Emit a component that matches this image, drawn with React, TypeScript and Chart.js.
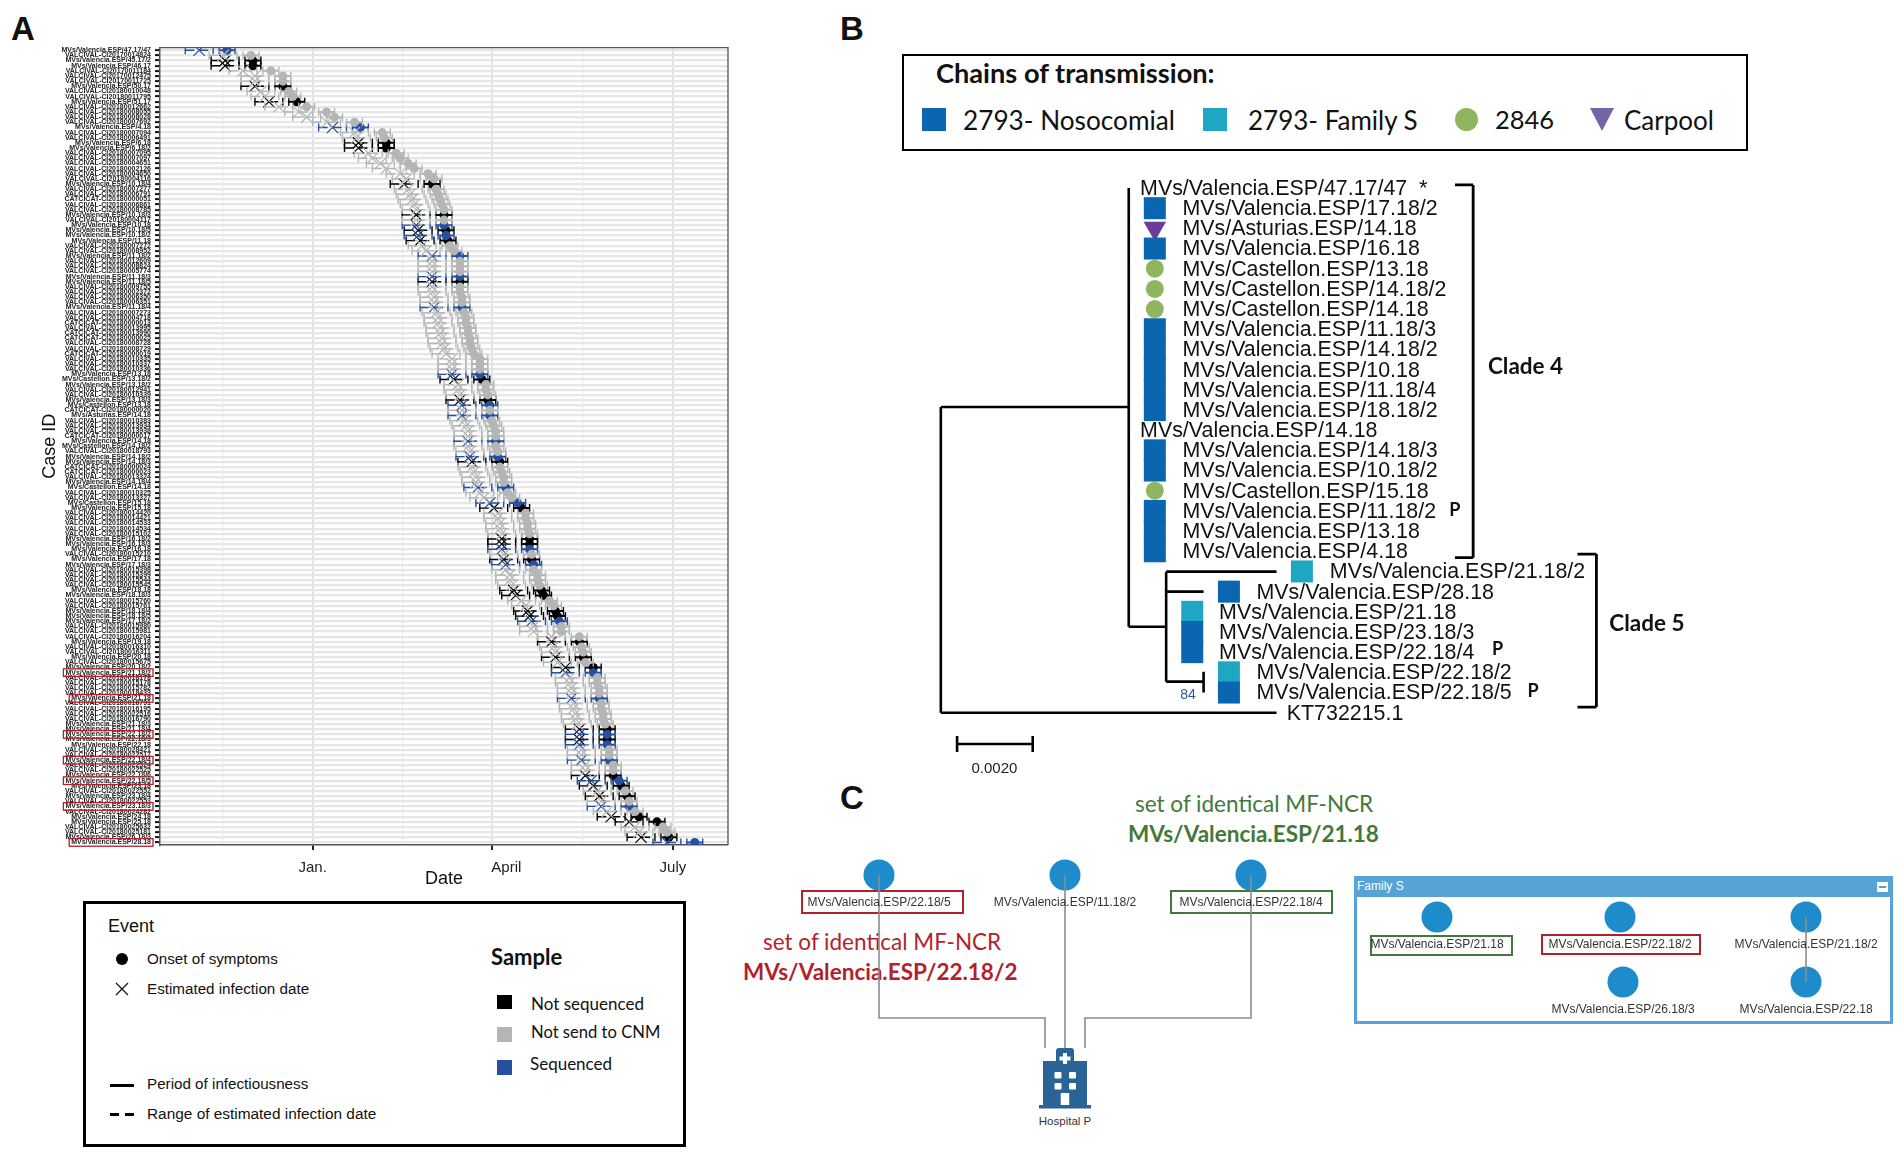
import React, { useEffect, useRef } from "react";
import { Chart, registerables } from "chart.js";

Chart.register(...registerables);

const SANS = '"Liberation Sans", Arial, sans-serif';
const HUM = 'Lato, "Open Sans", sans-serif';

// ---------- Panel A data ----------
const caseIds = [
  "MVs/Valencia.ESP/47.17/47","VALCIVAL-CI20170014824","MVs/Valencia.ESP/45.17/2","MVs/Valencia.ESP/46.17","VALCIVAL-CI20170011184","VALCIVAL-CI20170012475","VALCIVAL-CI20170011725","MVs/Valencia.ESP/50.17","VALCIVAL-CI20180010048","VALCIVAL-CI20180011795",
  "MVs/Valencia.ESP/51.17","VALCIVAL-CI20180012662","VALCIVAL-CI20180008055","VALCIVAL-CI20180008028","VALCIVAL-CI20180007692","MVs/Valencia.ESP/4.18","VALCIVAL-CI20180007094","VALCIVAL-CI20180006491","MVs/Valencia.ESP/6.18","MVs/Valencia.ESP/6.18/2",
  "VALCIVAL-CI20180007095","VALCIVAL-CI20180007097","VALCIVAL-CI20180004651","VALCIVAL-CI20180002126","VALCIVAL-CI20180004650","VALCIVAL-CI20180004116","MVs/Valencia.ESP/10.18/4","VALCIVAL-CI20180007277","VALCIVAL-CI20180006791","CATCICAT-CI20180000051",
  "VALCIVAL-CI20180006861","VALCIVAL-CI20180008785","MVs/Valencia.ESP/10.18/3","VALCIVAL-CI20180004117","MVs/Valencia.ESP/10.18","MVs/Valencia.ESP/10.18/5","MVs/Valencia.ESP/10.18/2","MVs/Valencia.ESP/11.18","VALCIVAL-CI20180007272","VALCIVAL-CI20180008952",
  "MVs/Valencia.ESP/11.18/2","VALCIVAL-CI20180012609","VALCIVAL-CI20180008824","VALCIVAL-CI20180005774","MVs/Valencia.ESP/11.18/3","MVs/Valencia.ESP/11.18/5","VALCIVAL-CI20180009755","VALCIVAL-CI20180002372","VALCIVAL-CI20180006350","VALCIVAL-CI20180006351",
  "MVs/Valencia.ESP/11.18/4","VALCIVAL-CI20180007273","VALCIVAL-CI20180004718","CATCICAT-CI20180000013","VALCIVAL-CI20180013995","CATCICAT-CI20180013990","CATCICAT-CI20180000025","VALCIVAL-CI20180008728","VALCIVAL-CI20180008729","CATCICAT-CI20180000019",
  "VALCIVAL-CI20180010335","VALCIVAL-CI20180010337","VALCIVAL-CI20180010336","MVs/Valencia.ESP/13.18","MVs/Castellon.ESP/13.18/2","MVs/Valencia.ESP/13.18/2","VALCIVAL-CI20180012941","VALCIVAL-CI20180010339","MVs/Valencia.ESP/13.18/3","MVs/Castellon.ESP/13.18",
  "CATCICAT-CI20180000020","MVs/Asturias.ESP/14.18","VALCIVAL-CI20180010383","VALCIVAL-CI20180013934","VALCIVAL-CI20180013938","CATCICAT-CI20180000017","MVs/Valencia.ESP/14.18","MVs/Castellon.ESP/14.18/2","VALCIVAL-CI20180018793","MVs/Valencia.ESP/14.18/2",
  "MVs/Valencia.ESP/14.18/3","CATCICAT-CI20180000024","CATCICAT-CI20180000023","VALCIVAL-CI20180013324","MVs/Valencia.ESP/14.18/4","MVs/Castellon.ESP/14.18","VALCIVAL-CI20180010325","VALCIVAL-CI20180013327","MVs/Castellon.ESP/15.18","MVs/Valencia.ESP/15.18",
  "VALCIVAL-CI20180014420","VALCIVAL-CI20180014421","VALCIVAL-CI20180014533","VALCIVAL-CI20180014534","VALCIVAL-CI20180015102","MVs/Valencia.ESP/16.18/2","MVs/Valencia.ESP/16.18/3","MVs/Valencia.ESP/16.18","VALCIVAL-CI20180015210","MVs/Valencia.ESP/17.18",
  "MVs/Valencia.ESP/17.18/3","VALCIVAL-CI20180015398","VALCIVAL-CI20180015399","VALCIVAL-CI20180015544","VALCIVAL-CI20180015545","MVs/Valencia.ESP/18.18","MVs/Valencia.ESP/18.18/3","VALCIVAL-CI20180015760","VALCIVAL-CI20180015761","MVs/Valencia.ESP/18.18/4",
  "MVs/Valencia.ESP/18.18/5","MVs/Valencia.ESP/17.18/2","VALCIVAL-CI20180015980","VALCIVAL-CI20180015981","VALCIVAL-CI20180016204","MVs/Valencia.ESP/19.18","VALCIVAL-CI20180016310","VALCIVAL-CI20180016311","MVs/Valencia.ESP/20.18","VALCIVAL-CI20180015675",
  "MVs/Valencia.ESP/20.18/2","MVs/Valencia.ESP/21.18/2","VALCIVAL-CI20180018178","VALCIVAL-CI20180015178","VALCIVAL-CI20180015782","VALCIVAL-CI20180018433","MVs/Valencia.ESP/21.18","VALCIVAL-CI20180016791","VALCIVAL-CI20180016195","VALCIVAL-CI20180022516",
  "VALCIVAL-CI20180016790","MVs/Valencia.ESP/21.18/3","MVs/Valencia.ESP/21.18/4","MVs/Valencia.ESP/22.18/2","MVs/Valencia.ESP/22.18/3","MVs/Valencia.ESP/22.18","VALCIVAL-CI20180028421","VALCIVAL-CI20180022517","MVs/Valencia.ESP/22.18/4","VALCIVAL-CI20180022524",
  "VALCIVAL-CI20180022525","MVs/Valencia.ESP/22.18/6","MVs/Valencia.ESP/22.18/5","MVs/Valencia.ESP/23.18","VALCIVAL-CI20180022552","MVs/Valencia.ESP/23.18/4","VALCIVAL-CI20180022553","MVs/Valencia.ESP/23.18/3","VALCIVAL-CI20180024282","MVs/Valencia.ESP/24.18",
  "MVs/Valencia.ESP/25.18","VALCIVAL-CI20180025632","VALCIVAL-CI20180025181","MVs/Valencia.ESP/26.18/3","MVs/Valencia.ESP/28.18",
];

// Onset of symptoms, in days from 1 January of the outbreak year
const onsetDay = [
  -43,-31,-30,-30,-21,-15,-15,-15,-12,-10,-8,-3,7,11,21,24,35,36,37,37,
  42,44,48,51,58,61,60,62,63,64,65,66,66,66,66,67,67,68,69,71,
  74,74,74,74,74,74,74,74,75,75,75,76,77,77,78,78,79,79,80,81,
  84,84,84,84,85,87,87,88,88,89,89,89,90,91,92,92,92,92,93,93,
  94,94,95,96,96,97,98,100,103,105,107,107,108,108,109,109,109,109,110,110,
  111,111,113,113,114,115,116,119,121,122,123,124,125,125,134,134,135,136,136,137,
  141,141,143,143,144,144,144,145,145,146,146,147,148,148,148,148,149,149,149,151,
  151,151,154,155,157,158,159,159,162,164,173,176,178,179,192,
];
const notSequencedRows = [2,3,7,10,18,19,26,32,35,37,45,64,68,80,89,95,96,99,105,106,109,110,115,118,120,132,134,141,143,145,149,150,153];
const sequencedRows = [0,15,34,36,40,44,50,63,69,71,76,79,85,88,97,100,111,121,126,133,135,138,142,147,154];
const framedRows = [121,126,133,138,142,147,154];
const infectionLag = 14;
const infectionRangeLag = [21, 7];
const infectiousDays = 4;
const gridDays = [-45, 0, 45, 90, 135.5, 181];
const monthDays = [0, 90, 181];
const monthNames = ["Jan.", "April", "July"];

// ---------- Panel B data ----------
const tipNames = [
  "MVs/Valencia.ESP/47.17/47","MVs/Valencia.ESP/17.18/2","MVs/Asturias.ESP/14.18","MVs/Valencia.ESP/16.18","MVs/Castellon.ESP/13.18","MVs/Castellon.ESP/14.18/2","MVs/Castellon.ESP/14.18",
  "MVs/Valencia.ESP/11.18/3","MVs/Valencia.ESP/14.18/2","MVs/Valencia.ESP/10.18","MVs/Valencia.ESP/11.18/4","MVs/Valencia.ESP/18.18/2","MVs/Valencia.ESP/14.18","MVs/Valencia.ESP/14.18/3",
  "MVs/Valencia.ESP/10.18/2","MVs/Castellon.ESP/15.18","MVs/Valencia.ESP/11.18/2","MVs/Valencia.ESP/13.18","MVs/Valencia.ESP/4.18","MVs/Valencia.ESP/21.18/2","MVs/Valencia.ESP/28.18",
  "MVs/Valencia.ESP/21.18","MVs/Valencia.ESP/23.18/3","MVs/Valencia.ESP/22.18/4","MVs/Valencia.ESP/22.18/2","MVs/Valencia.ESP/22.18/5","KT732215.1",
];
const tipNameDist = [0.00527,0.00639,0.00639,0.00639,0.00639,0.00639,0.00639,0.00639,0.00639,0.00639,0.00639,0.00639,0.00527,0.00639,0.00639,0.00639,0.00639,0.00639,0.00639,0.01029,0.00835,0.00736,0.00736,0.00736,0.00835,0.00835,0.00915];
const tipChain = ["","N","C","N","G","G","G","N","N","N","N","N","","N","N","G","N","N","N","F","N","F","N","N","F","N",""];
const tipMarkDist = [0,0.00566,0.00566,0.00566,0.00566,0.00566,0.00566,0.00566,0.00566,0.00566,0.00566,0.00566,0,0.00566,0.00566,0.00566,0.00566,0.00566,0.00566,0.00955,0.00762,0.00665,0.00665,0.00665,0.00762,0.00762,0];
const treeBranches = [
  [0,10.85,0,26],[0,10.85,0.00497,10.85],[0.00497,0,0.00497,21.74],[0.00497,21.74,0.00596,21.74],
  [0.00596,19.01,0.00596,24.46],[0.00596,19.01,0.00888,19.01],[0.00596,20,0.00695,20],[0.00596,24.46,0.00695,24.46],
  [0.00695,23.97,0.00695,25],[0,26,0.00888,26],
];
const cladeBrackets = [
  [0.0136,-0.15,0.01408,-0.15],[0.01408,-0.15,0.01408,18.32],[0.0136,18.32,0.01408,18.32],
  [0.01684,18.14,0.01734,18.14],[0.01734,18.14,0.01734,25.72],[0.01684,25.72,0.01734,25.72],
];
const scaleBar = [[0.00043,27.55,0.00243,27.55],[0.00043,27.15,0.00043,27.95],[0.00243,27.15,0.00243,27.95]];
const treeNotes = [
  { t: "*", d: 0.01265, y: 0.05, f: `22px ${SANS}`, c: "#111" },
  { t: "P", d: 0.01345, y: 15.95, f: `bold 18px ${HUM}`, c: "#111" },
  { t: "P", d: 0.01458, y: 22.84, f: `bold 18px ${HUM}`, c: "#111" },
  { t: "P", d: 0.01552, y: 24.93, f: `bold 18px ${HUM}`, c: "#111" },
  { t: "Clade 4", d: 0.01447, y: 8.86, f: `bold 22.5px ${HUM}`, c: "#111" },
  { t: "Clade 5", d: 0.01768, y: 21.57, f: `bold 22.5px ${HUM}`, c: "#111" },
  { t: "84", d: 0.00633, y: 25.12, f: `14px ${SANS}`, c: "#2b5a9e" },
  { t: "0.0020", d: 0.00081, y: 28.8, f: `15px ${SANS}`, c: "#222" },
];

// ---------- Panel C data ----------
const nodeNames = ["MVs/Valencia.ESP/22.18/5","MVs/Valencia.ESP/11.18/2","MVs/Valencia.ESP/22.18/4","MVs/Valencia.ESP/21.18","MVs/Valencia.ESP/22.18/2","MVs/Valencia.ESP/21.18/2","MVs/Valencia.ESP/26.18/3","MVs/Valencia.ESP/22.18"];
const nodeX = [879,1065,1251,1437,1620,1806,1623,1806];
const nodeY = [875,875,875,917,917,917,982,982];
const networkLinks = [
  [[879,875],[879,1018],[1045,1018],[1045,1048]],
  [[1065,875],[1065,1048]],
  [[1251,875],[1251,1018],[1085,1018],[1085,1048]],
  [[1806,917],[1806,982]],
];

const BLACK = "#000000", GREY = "#b4b6b6", BLUE = "#24509f";
const CHAIN = { N: "#0a66b1", F: "#1fa6c2", G: "#8fb55f", C: "#6a3d9a" };

const GAP = { x: NaN, y: NaN };
const rowsOf = (status: string) =>
  onsetDay.map((_, i) => i).filter((i) => {
    const black = notSequencedRows.includes(i), blue = sequencedRows.includes(i);
    return status === "k" ? black : status === "b" ? blue : !black && !blue;
  });

function layers(status: string, color: string) {
  const rows = rowsOf(status);
  const span = (lo: (d: number) => number, hi: (d: number) => number) =>
    rows.flatMap((i) => [{ x: lo(onsetDay[i]), y: i }, { x: hi(onsetDay[i]), y: i }, GAP]);
  const caps = { pointStyle: "line", pointRotation: 90, pointRadius: 4, pointBorderColor: color, pointBorderWidth: 1.4, showLine: true, borderColor: color, tension: 0 };
  return [
    { ...caps, data: span((d) => d - infectionRangeLag[0], (d) => d - infectionRangeLag[1]), borderWidth: 1.4, borderDash: [9, 5] },
    { ...caps, data: span((d) => d - infectiousDays, (d) => d + infectiousDays), borderWidth: 2 },
    { data: rows.map((i) => ({ x: onsetDay[i] - infectionLag, y: i })), pointStyle: "crossRot", pointRadius: 8, pointBorderColor: color, pointBorderWidth: 1.2, showLine: false },
    { data: rows.map((i) => ({ x: onsetDay[i], y: i })), pointStyle: "circle", pointRadius: 4.5, pointBackgroundColor: color, pointBorderColor: color, pointBorderWidth: 0, showLine: false },
  ];
}

const noUi = { legend: { display: false }, tooltip: { enabled: false } };

function makeTimeline(canvas: HTMLCanvasElement) {
  const framePlugin = {
    id: "frames",
    afterDraw(chart: any) {
      const { ctx, chartArea: a, scales } = chart;
      ctx.save();
      ctx.strokeStyle = "#555";
      ctx.lineWidth = 1.3;
      ctx.beginPath();
      ctx.moveTo(a.left, a.top); ctx.lineTo(a.right, a.top); ctx.lineTo(a.right, a.bottom);
      ctx.stroke();
      ctx.font = `bold 7px ${SANS}`;
      ctx.strokeStyle = "#b21f2d";
      ctx.lineWidth = 1.3;
      framedRows.forEach((r) => {
        const y = scales.y.getPixelForValue(r);
        const w = ctx.measureText(caseIds[r]).width;
        ctx.strokeRect(a.left - 9 - w - 2, y - 3.8, w + 4, 7.6);
      });
      ctx.restore();
    },
  };
  return new Chart(canvas, {
    type: "scatter",
    plugins: [framePlugin],
    data: { datasets: [...layers("g", GREY), ...layers("b", BLUE), ...layers("k", BLACK)] as any },
    options: {
      animation: false, responsive: false, events: [],
      layout: { autoPadding: false, padding: { left: 0, top: 47.7, right: 12, bottom: 0 } },
      plugins: noUi,
      scales: {
        x: {
          type: "linear", min: -76.7, max: 208.7,
          afterBuildTicks: (s: any) => { s.ticks = gridDays.map((value) => ({ value })); },
          afterFit: (s: any) => { s.height = 45; },
          ticks: {
            autoSkip: false, maxRotation: 0, padding: 9, color: "#222",
            font: { family: SANS, size: 15 },
            callback: (v: any) => {
              const k = monthDays.indexOf(v);
              if (k < 0) return "";
              return (monthNames[k] === "April" ? "\u00a0".repeat(7) : "") + monthNames[k];
            },
          },
          grid: {
            tickLength: 5, tickWidth: 2,
            tickColor: (c: any) => (monthDays.includes(c.tick?.value) ? "#222" : "rgba(0,0,0,0)"),
            color: (c: any) => (monthDays.includes(c.tick?.value) ? "#e2e2e2" : "#ececec"),
            lineWidth: (c: any) => (monthDays.includes(c.tick?.value) ? 2 : 1.2),
          },
          border: { color: "#555", width: 1.5 },
          title: { display: true, text: "Date", color: "#111", font: { family: SANS, size: 18 }, padding: 0 },
        },
        y: {
          type: "linear", reverse: true, min: -0.5, max: caseIds.length - 0.5,
          afterBuildTicks: (s: any) => { s.ticks = caseIds.map((_, value) => ({ value })); },
          afterFit: (s: any) => { s.width = 160; },
          ticks: {
            autoSkip: false, maxRotation: 0, padding: 4, color: "#222",
            font: { family: SANS, size: 7, weight: "bold" },
            callback: (v: any) => caseIds[v],
          },
          grid: { tickLength: 5, tickWidth: 2, tickColor: "#111", color: "#e6e6e6", lineWidth: 2.2 },
          border: { color: "#555", width: 1.5 },
          title: { display: true, text: "Case ID", color: "#111", font: { family: SANS, size: 18 }, padding: { top: 39, bottom: 0 } },
        },
      },
    } as any,
  });
}

const segs = (list: number[][]) => list.flatMap((s) => [{ x: s[0], y: s[1] }, { x: s[2], y: s[3] }, GAP]);

function makeTree(canvas: HTMLCanvasElement) {
  const textPlugin = {
    id: "tipText",
    afterDatasetsDraw(chart: any) {
      const { ctx, scales: { x, y } } = chart;
      ctx.save();
      ctx.textBaseline = "middle";
      ctx.fillStyle = "#111";
      ctx.font = `21.4px ${SANS}`;
      tipNames.forEach((n, i) => ctx.fillText(n, x.getPixelForValue(tipNameDist[i]), y.getPixelForValue(i) + 1));
      treeNotes.forEach((n) => {
        ctx.font = n.f; ctx.fillStyle = n.c;
        ctx.fillText(n.t, x.getPixelForValue(n.d), y.getPixelForValue(n.y));
      });
      ctx.restore();
    },
  };
  const marks = (code: string) => tipChain.map((c, i) => ({ c, i })).filter((o) => o.c === code).map((o) => ({ x: tipMarkDist[o.i], y: o.i }));
  const line = (data: any[], width: number) => ({ data, showLine: true, borderColor: "#000", borderWidth: width, pointRadius: 0, tension: 0 });
  return new Chart(canvas, {
    type: "scatter",
    plugins: [textPlugin],
    data: {
      datasets: [
        line(segs(treeBranches), 2.6),
        line(segs(cladeBrackets), 2.8),
        line(segs(scaleBar), 2.6),
        { data: marks("N"), pointStyle: "rect", pointRadius: 15.56, pointBackgroundColor: CHAIN.N, pointBorderWidth: 0, showLine: false },
        { data: marks("F"), pointStyle: "rect", pointRadius: 15.56, pointBackgroundColor: CHAIN.F, pointBorderWidth: 0, showLine: false },
        { data: marks("G"), pointStyle: "circle", pointRadius: 9, pointBackgroundColor: CHAIN.G, pointBorderWidth: 0, showLine: false },
        { data: marks("C"), pointStyle: "triangle", pointRotation: 180, pointRadius: 13, pointBackgroundColor: CHAIN.C, pointBorderWidth: 0, showLine: false },
      ] as any,
    },
    options: {
      animation: false, responsive: false, events: [], plugins: noUi,
      layout: { autoPadding: false, padding: 0 },
      scales: {
        x: { type: "linear", display: false, min: -0.00108, max: 0.02008 },
        y: { type: "linear", display: false, reverse: true, min: -0.892, max: 29.83 },
      },
    } as any,
  });
}

function makeNetwork(canvas: HTMLCanvasElement) {
  const textPlugin = {
    id: "nodeText",
    afterDatasetsDraw(chart: any) {
      const { ctx, scales: { x, y } } = chart;
      ctx.save();
      ctx.textBaseline = "middle";
      ctx.textAlign = "center";
      ctx.fillStyle = "#333";
      ctx.font = `12px ${SANS}`;
      nodeNames.forEach((n, i) => ctx.fillText(n, x.getPixelForValue(nodeX[i]), y.getPixelForValue(nodeY[i] + 28)));
      ctx.restore();
    },
  };
  const linkData = networkLinks.flatMap((p) => [...p.map(([x, y]) => ({ x, y })), GAP]);
  return new Chart(canvas, {
    type: "scatter",
    plugins: [textPlugin],
    data: {
      datasets: [
        { data: linkData, showLine: true, borderColor: "#8a8c8e", borderWidth: 1.6, pointRadius: 0, tension: 0 },
        { data: nodeX.map((x, i) => ({ x, y: nodeY[i] })), pointStyle: "circle", pointRadius: 15.5, pointBackgroundColor: "#1e8bca", pointBorderWidth: 0, showLine: false },
      ] as any,
    },
    options: {
      animation: false, responsive: false, events: [], plugins: noUi,
      layout: { autoPadding: false, padding: 0 },
      scales: {
        x: { type: "linear", display: false, min: 730, max: 1904 },
        y: { type: "linear", display: false, reverse: true, min: 780, max: 1154 },
      },
    } as any,
  });
}

function T({ x, y, s, b, c = "#111", f = SANS, a = "left", children }: any) {
  return (
    <div style={{
      position: "absolute", left: x, top: y, fontSize: s, fontWeight: b ? 700 : 400, color: c, fontFamily: f,
      lineHeight: 1, whiteSpace: "nowrap", transform: `translate(${a === "center" ? "-50%" : "0"},-50%)`,
    }}>{children}</div>
  );
}

function Box({ x, y, w, h, border, bg }: any) {
  return <div style={{ position: "absolute", left: x, top: y, width: w, height: h, boxSizing: "border-box", border, background: bg }} />;
}

function Cv({ r, x, y, w, h }: any) {
  return <canvas ref={r} width={w} height={h} style={{ position: "absolute", left: x, top: y, width: w, height: h }} />;
}

export default function App() {
  const a = useRef<HTMLCanvasElement>(null);
  const b = useRef<HTMLCanvasElement>(null);
  const c = useRef<HTMLCanvasElement>(null);
  useEffect(() => {
    const charts = [makeTimeline(a.current!), makeTree(b.current!), makeNetwork(c.current!)];
    return () => charts.forEach((ch) => ch.destroy());
  }, []);
  return (
    <div style={{ position: "absolute", left: 0, top: 0, width: 1904, height: 1154, overflow: "hidden", background: "#fff" }}>
      <T x={11} y={28} s={33} b>A</T>
      <T x={840} y={28} s={33} b>B</T>
      <T x={840} y={797} s={33} b>C</T>

      {/* Panel A legend */}
      <Box x={83} y={901} w={603} h={246} border="3px solid #000" />
      <T x={108} y={926} s={18}>Event</T>
      <div style={{ position: "absolute", left: 116, top: 953, width: 12, height: 12, borderRadius: "50%", background: "#000" }} />
      <T x={147} y={959} s={15.2}>Onset of symptoms</T>
      <svg style={{ position: "absolute", left: 115, top: 982 }} width="14" height="14"><path d="M1 1L13 13M13 1L1 13" stroke="#111" strokeWidth="1.2" /></svg>
      <T x={147} y={989} s={15.2}>Estimated infection date</T>
      <div style={{ position: "absolute", left: 110, top: 1084, width: 24, height: 2.5, background: "#000" }} />
      <T x={147} y={1084} s={15.2}>Period of infectiousness</T>
      <div style={{ position: "absolute", left: 110, top: 1113, width: 8.5, height: 2.5, background: "#000" }} />
      <div style={{ position: "absolute", left: 125, top: 1113, width: 8.5, height: 2.5, background: "#000" }} />
      <T x={147} y={1114} s={15.4}>Range of estimated infection date</T>
      <T x={491} y={957} s={22} b f={HUM}>Sample</T>
      <Box x={497} y={995} w={15} h={14} bg="#000" />
      <T x={531} y={1003} s={17} f={HUM}>Not sequenced</T>
      <Box x={497} y={1027} w={15} h={15} bg="#b4b6b6" />
      <T x={531} y={1032} s={16.6} f={HUM}>Not send to CNM</T>
      <Box x={497} y={1060} w={15} h={15} bg="#24509f" />
      <T x={530} y={1063} s={17} f={HUM}>Sequenced</T>

      {/* Panel B legend */}
      <Box x={902} y={54} w={846} h={97} border="2.5px solid #000" />
      <T x={936} y={73} s={27.2} b f={HUM}>Chains of transmission:</T>
      <Box x={922} y={108} w={24} h={23} bg="#0a66b1" />
      <T x={963} y={120} s={26.2} f={HUM}>2793- Nosocomial</T>
      <Box x={1203} y={108} w={24} h={23} bg="#1fa6c2" />
      <T x={1248} y={120} s={26} f={HUM}>2793- Family S</T>
      <div style={{ position: "absolute", left: 1455, top: 108, width: 23, height: 23, borderRadius: "50%", background: "#8fb55f" }} />
      <T x={1495} y={120} s={25.5} f={HUM}>2846</T>
      <div style={{ position: "absolute", left: 1590, top: 108, width: 24, height: 23, background: "#7565a8", clipPath: "polygon(0 0,100% 0,50% 100%)" }} />
      <T x={1624} y={120} s={26} f={HUM}>Carpool</T>

      {/* Panel C captions and boxes */}
      <T x={1135} y={804} s={22.5} c="#3f7a3a" f={HUM}>set of identical MF-NCR</T>
      <T x={1128} y={834} s={22.5} b c="#3f7a3a" f={HUM}>MVs/Valencia.ESP/21.18</T>
      <T x={763} y={942} s={22.5} c="#b21f2d" f={HUM}>set of identical MF-NCR</T>
      <T x={743} y={972} s={22.5} b c="#b21f2d" f={HUM}>MVs/Valencia.ESP/22.18/2</T>
      <Box x={801} y={890} w={163} h={24} border="2.5px solid #b21f2d" />
      <Box x={1170} y={890} w={163} h={24} border="2.5px solid #3f7a3a" />
      <Box x={1354} y={876} w={539} h={148} border="3px solid #57a3d6" />
      <Box x={1354} y={876} w={539} h={21} bg="#57a3d6" />
      <T x={1357} y={886} s={12} c="#fff">Family S</T>
      <Box x={1877} y={882} w={11} h={10} bg="#fff" />
      <Box x={1879} y={886} w={7} h={2} bg="#57a3d6" />
      <Box x={1370} y={935} w={143} h={21} border="2.5px solid #3f7a3a" />
      <Box x={1541} y={934} w={160} h={21} border="2.5px solid #b21f2d" />
      <svg style={{ position: "absolute", left: 1039, top: 1048 }} width="52" height="61" viewBox="0 0 52 61">
        <path d="M4 60V13h13V3q0-3 3-3h12q3 0 3 3v10h13v47z" fill="#2a6496" />
        <rect x="0" y="57" width="52" height="3.5" fill="#2a6496" />
        <path d="M24 5h4v3.5h3.5v4H28V16h-4v-3.5h-3.5v-4H24z" fill="#fff" />
        <rect x="15.5" y="24" width="7" height="6.5" rx="1" fill="#fff" /><rect x="30" y="24" width="7" height="6.5" rx="1" fill="#fff" />
        <rect x="15.5" y="35" width="7" height="6.5" rx="1" fill="#fff" /><rect x="30" y="35" width="7" height="6.5" rx="1" fill="#fff" />
        <rect x="21.7" y="45" width="8.5" height="12" fill="#fff" />
      </svg>
      <T x={1065} y={1122} s={11.5} c="#333" a="center">Hospital P</T>

      <Cv r={a} x={0} y={0} w={740} h={890} />
      <Cv r={b} x={900} y={170} w={800} h={620} />
      <Cv r={c} x={730} y={780} w={1174} h={374} />
    </div>
  );
}
